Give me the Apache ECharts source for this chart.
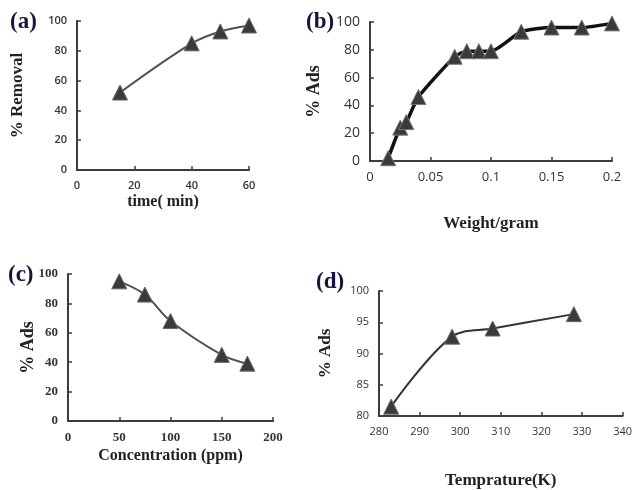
<!DOCTYPE html>
<html><head><meta charset="utf-8">
<script src="https://cdn.jsdelivr.net/npm/echarts@6/dist/echarts.min.js"></script>
<style>html,body{margin:0;padding:0;background:#fff}#c{width:635px;height:490px}</style>
</head><body><div id="c"></div>
<script>
// (a) time vs % removal
const timeMin = [15, 40, 50, 60];
const removalPct = [52, 85, 93, 97];
// (b) weight vs % ads
const weightGram = [0.015, 0.025, 0.03, 0.04, 0.07, 0.08, 0.09, 0.1, 0.125, 0.15, 0.175, 0.2];
const adsWeight = [2, 24, 28, 46, 75, 79, 79, 79, 93, 96, 96, 99];
// (c) concentration vs % ads
const concPpm = [50, 75, 100, 150, 175];
const adsConc = [95, 86, 68, 45, 39];
// (d) temperature vs % ads
const tempK = [283, 298, 308, 328];
const adsTemp = [81.5, 92.7, 94, 96.3];

const panelLabels = ['(a)', '(b)', '(c)', '(d)'];
const xNames = ['time( min)', 'Weight/gram', 'Concentration (ppm)', 'Temprature(K)'];
const yNames = ['% Removal', '% Ads', '% Ads', '% Ads'];

const zip = (a, b) => a.map((v, i) => [v, b[i]]);
const serif = '"Liberation Serif", "DejaVu Serif", serif';
const sans = '"Open Sans", "Liberation Sans", sans-serif';

const grids = [
  {left: 77, top: 21, width: 172, height: 149},
  {left: 370, top: 22, width: 242, height: 139},
  {left: 68, top: 274, width: 205, height: 147},
  {left: 379, top: 291, width: 245, height: 126}
];
const axisLine = {show: true, lineStyle: {color: '#3c3c3c', width: 2}};
const axisTick = {show: true, inside: true, length: 4, lineStyle: {color: '#3c3c3c', width: 1.5}};
function xAx(i, min, max, interval, fs, ff, fw, gap, nfs) {
  return {type: 'value', gridIndex: i, min, max, interval, axisLine, axisTick,
    splitLine: {show: false},
    axisLabel: {fontSize: fs, fontFamily: ff, fontWeight: fw, color: '#333', margin: 10},
    name: xNames[i], nameLocation: 'middle', nameGap: gap, nameMoveOverlap: false,
    nameTextStyle: {fontFamily: serif, fontWeight: 'bold', fontSize: nfs, color: '#222'}};
}
function yAx(i, min, max, interval, fs, ff, fw, gap, nfs) {
  return {type: 'value', gridIndex: i, min, max, interval, axisLine, axisTick,
    splitLine: {show: false},
    axisLabel: {fontSize: fs, fontFamily: ff, fontWeight: fw, color: '#333', margin: 10},
    name: yNames[i], nameLocation: 'middle', nameGap: gap, nameRotate: 90, nameMoveOverlap: false,
    nameTextStyle: {fontFamily: serif, fontWeight: 'bold', fontSize: nfs, color: '#222'}};
}
const titlePos = [[5, 6], [301, 6], [3, 259], [311, 266]];
const option = {
  animation: false,
  backgroundColor: '#fff',
  title: panelLabels.map((t, i) => ({text: t, left: titlePos[i][0], top: titlePos[i][1],
    textStyle: {fontFamily: serif, fontWeight: 'bold', fontSize: 23, color: '#16163a'}})),
  grid: grids,
  xAxis: [
    xAx(0, 0, 60, 20, 11, sans, 600, 24, 16),
    xAx(1, 0, 0.2, 0.05, 13, sans, 'normal', 54, 17),
    xAx(2, 0, 200, 50, 13, serif, 'bold', 27, 16),
    xAx(3, 280, 340, 10, 11, sans, 'normal', 56, 17)
  ],
  yAxis: [
    yAx(0, 0, 100, 20, 11, sans, 600, 51, 17),
    yAx(1, 0, 100, 20, 14, sans, 'normal', 47, 18),
    yAx(2, 0, 100, 20, 13, serif, 'bold', 31, 18),
    yAx(3, 80, 100, 5, 11, sans, 'normal', 45, 17)
  ],
  series: [
    {type: 'line', xAxisIndex: 0, yAxisIndex: 0, data: zip(timeMin, removalPct), smooth: 0.35,
      symbol: 'triangle', symbolSize: 15, lineStyle: {color: '#505050', width: 2},
      itemStyle: {color: '#3a3a3a', borderColor: '#666', borderWidth: 1}},
    {type: 'line', xAxisIndex: 1, yAxisIndex: 1, data: zip(weightGram, adsWeight), smooth: 0.2,
      symbol: 'triangle', symbolSize: 15, lineStyle: {color: '#111', width: 3.5},
      itemStyle: {color: '#3a3a3a', borderColor: '#777', borderWidth: 1}},
    {type: 'line', xAxisIndex: 2, yAxisIndex: 2, data: zip(concPpm, adsConc), smooth: 0.35,
      symbol: 'triangle', symbolSize: 15, lineStyle: {color: '#505050', width: 2},
      itemStyle: {color: '#3a3a3a', borderColor: '#666', borderWidth: 1}},
    {type: 'line', xAxisIndex: 3, yAxisIndex: 3, data: zip(tempK, adsTemp), smooth: 0.35,
      symbol: 'triangle', symbolSize: 15, lineStyle: {color: '#333', width: 2},
      itemStyle: {color: '#3a3a3a', borderColor: '#666', borderWidth: 1}}
  ]
};
echarts.init(document.getElementById('c')).setOption(option);
</script></body></html>
